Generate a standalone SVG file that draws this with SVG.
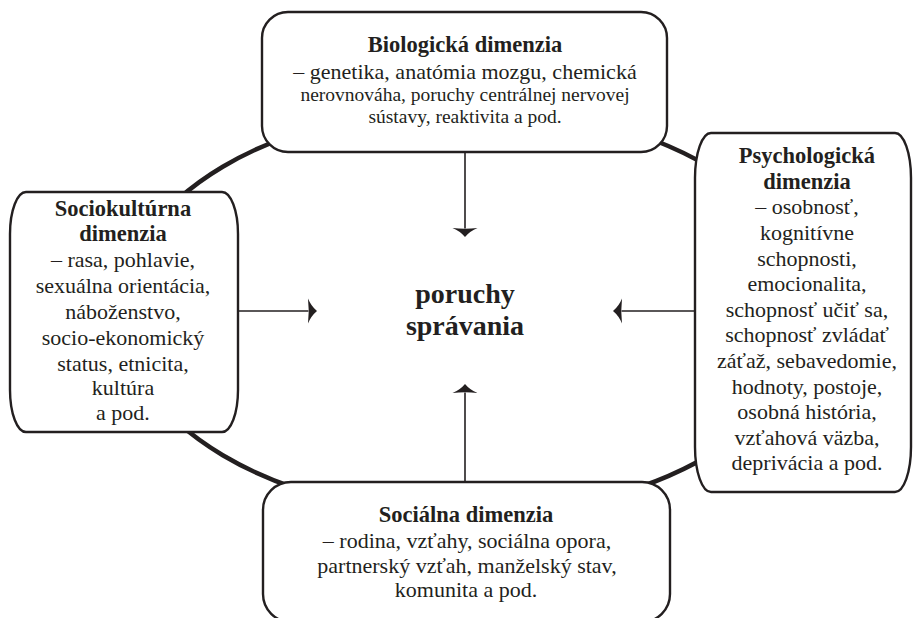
<svg xmlns="http://www.w3.org/2000/svg" width="914" height="618" viewBox="0 0 914 618">
<style>
.box{fill:#fff;stroke:#231f20;stroke-width:2.4}
.ring{fill:none;stroke:#231f20;stroke-width:4.5}
.conn{fill:none;stroke:#231f20;stroke-width:1.6}
text{font-family:"Liberation Serif","Times New Roman",serif;fill:#231f20;text-anchor:middle}
.h{font-weight:bold;font-size:22.5px}
.b{font-size:22px}
.s{font-size:19.5px}
.c{font-weight:bold;font-size:28px}
</style>
<defs>
<marker id="ah" viewBox="-10 -13 11 26" refX="-8.5" refY="0" markerWidth="11" markerHeight="26" markerUnits="userSpaceOnUse" orient="auto">
<path d="M0,0 Q-6,-5 -9,-12.5 Q-7.5,0 -9,12.5 Q-6,5 0,0 Z" fill="#231f20"/>
</marker>
</defs>
<g id="ring">
<ellipse class="ring" cx="466" cy="311" rx="344" ry="204"/>
</g>
<g id="node-bio">
<rect class="box" x="262" y="12" width="405" height="140" rx="26" ry="26"/>
<text class="h" x="465" y="52">Biologická dimenzia</text>
<text class="b" x="465" y="79">– genetika, anatómia mozgu, chemická</text>
<text class="s" x="465" y="101">nerovnováha, poruchy centrálnej nervovej</text>
<text class="s" x="465" y="123">sústavy, reaktivita a pod.</text>
</g>
<g id="node-socio">
<rect class="box" x="10" y="192" width="228" height="240" rx="16" ry="42"/>
<text class="h" x="123" y="216">Sociokultúrna</text>
<text class="h" x="123" y="241">dimenzia</text>
<text class="b" x="123" y="267">– rasa, pohlavie,</text>
<text class="b" x="123" y="293">sexuálna orientácia,</text>
<text class="b" x="123" y="319">náboženstvo,</text>
<text class="b" x="123" y="345">socio-ekonomický</text>
<text class="b" x="123" y="370.5">status, etnicita,</text>
<text class="b" x="123" y="395">kultúra</text>
<text class="b" x="123" y="420">a pod.</text>
</g>
<g id="node-psych">
<rect class="box" x="695" y="133" width="216" height="359" rx="16" ry="45"/>
<text class="h" x="807" y="163">Psychologická</text>
<text class="h" x="807" y="188.5">dimenzia</text>
<text class="b" x="807" y="214">– osobnosť,</text>
<text class="b" x="807" y="240">kognitívne</text>
<text class="b" x="807" y="265.5">schopnosti,</text>
<text class="b" x="807" y="291">emocionalita,</text>
<text class="b" x="807" y="316.5">schopnosť učiť sa,</text>
<text class="b" x="807" y="342">schopnosť zvládať</text>
<text class="b" x="807" y="368">záťaž, sebavedomie,</text>
<text class="b" x="807" y="393.5">hodnoty, postoje,</text>
<text class="b" x="807" y="419">osobná história,</text>
<text class="b" x="807" y="445">vzťahová väzba,</text>
<text class="b" x="807" y="470">deprivácia a pod.</text>
</g>
<g id="node-social">
<rect class="box" x="263" y="482" width="407" height="140" rx="28" ry="28"/>
<text class="h" x="466" y="522">Sociálna dimenzia</text>
<text class="b" x="467" y="547.5">– rodina, vzťahy, sociálna opora,</text>
<text class="b" x="467" y="573">partnerský vzťah, manželský stav,</text>
<text class="b" x="466" y="597">komunita a pod.</text>
</g>
<g id="node-center">
<text class="c" x="465" y="303">poruchy</text>
<text class="c" x="465" y="335">správania</text>
</g>
<g id="connectors">
<line class="conn" x1="465" y1="152" x2="465" y2="228.5" marker-end="url(#ah)"/>
<line class="conn" x1="465" y1="482" x2="465" y2="392.5" marker-end="url(#ah)"/>
<line class="conn" x1="238" y1="311" x2="308.5" y2="311" marker-end="url(#ah)"/>
<line class="conn" x1="695" y1="311" x2="621.5" y2="311" marker-end="url(#ah)"/>
</g>
</svg>
